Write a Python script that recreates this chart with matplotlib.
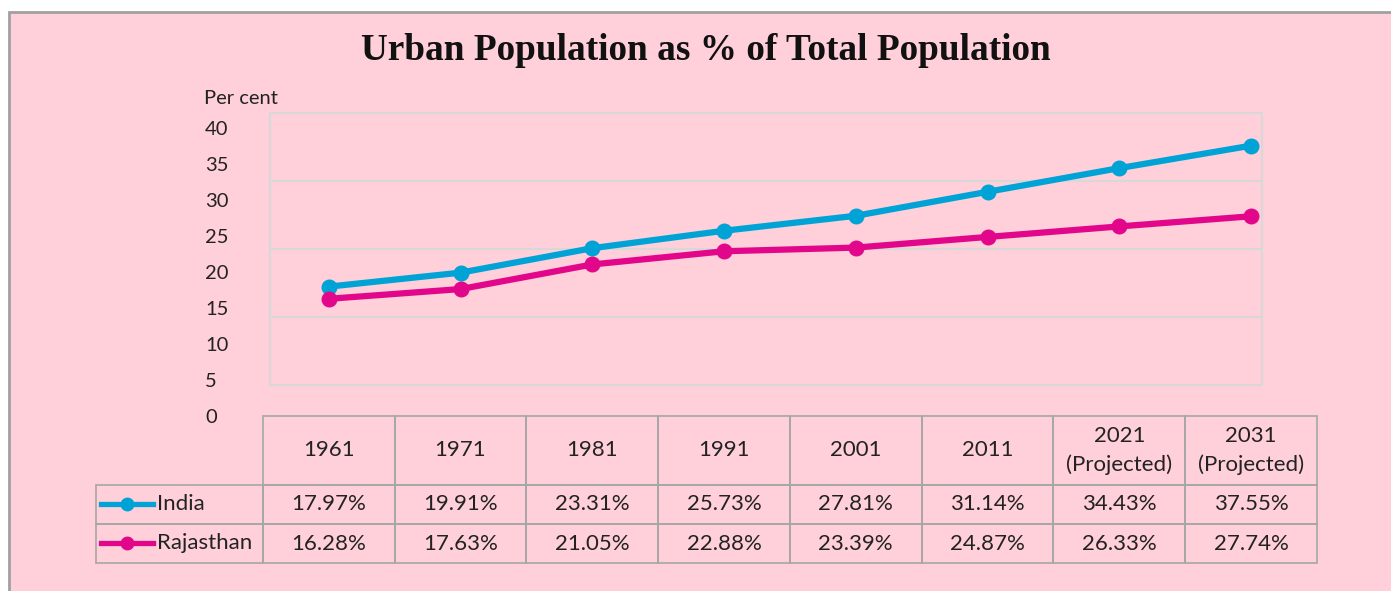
import matplotlib
matplotlib.use('Agg')
import matplotlib.pyplot as plt
from matplotlib.patches import Rectangle
from matplotlib.lines import Line2D

# Data
years = ['1961', '1971', '1981', '1991', '2001', '2011',
         '2021\n(Projected)', '2031\n(Projected)']
india = [17.97, 19.91, 23.31, 25.73, 27.81, 31.14, 34.43, 37.55]
rajasthan = [16.28, 17.63, 21.05, 22.88, 23.39, 24.87, 26.33, 27.74]
series_names = ['India', 'Rajasthan']
y_ticks = [0, 5, 10, 15, 20, 25, 30, 35, 40]

PINK = '#FFD0DA'
BLUE = '#00A3D6'
MAGENTA = '#E2078A'
GRID = '#D8D8D8'
TABLE_LINE = '#A6A6A6'
TEXT = '#222222'

W, H = 1391, 591


def fx(px):
    return px / W


def fy(py):
    return 1 - py / H


fig = plt.figure(figsize=(W / 100, H / 100), dpi=100, facecolor='white')

# pink chart panel with grey border
fig.patches.append(Rectangle((fx(9), fy(600)), fx(1400), (600 - 12) / H,
                             transform=fig.transFigure, facecolor=PINK,
                             edgecolor='#A0A0A0', linewidth=2, zorder=-5))

fig.text(fx(706), fy(51), 'Urban Population as % of Total Population',
         ha='center', va='center', fontsize=26.8, fontweight='bold',
         family='Liberation Serif', color='#111111')

# plot-area frame with its gridlines (drawn as in the original Excel chart)
frame = fig.add_axes([fx(270), fy(385), fx(992), 272 / H])
frame.set_xlim(0, 1)
frame.set_ylim(0, 4)
frame.set_xticks([])
frame.set_yticks([1, 2, 3])
frame.tick_params(left=False, labelleft=False)
frame.grid(axis='y', color=GRID, linewidth=1.5)
frame.patch.set_alpha(0)
for s in frame.spines.values():
    s.set_color(GRID)
    s.set_linewidth(1.5)

# data axes
ax = fig.add_axes([fx(263), fy(416), fx(1054), 288 / H])
ax.patch.set_alpha(0)
x = list(range(len(years)))
ax.plot(x, india, color=BLUE, lw=4.5, marker='o', ms=10.5, zorder=3)
ax.plot(x, rajasthan, color=MAGENTA, lw=4.5, marker='o', ms=10.5, zorder=3)
ax.set_xlim(-0.5, len(years) - 0.5)
ax.set_ylim(0, 40)
ax.set_yticks(y_ticks)
ax.set_xticks([])
ax.tick_params(axis='y', length=0, pad=41.8, labelsize=14.5, labelcolor=TEXT)
for lab in ax.get_yticklabels():
    lab.set_ha('left')
    lab.set_family('Lato')
for s in ax.spines.values():
    s.set_visible(False)
fig.text(fx(204), fy(99), 'Per cent', ha='left', va='center',
         fontsize=14.5, family='Lato', color=TEXT)

# data table under the chart (first column holds the series keys)
cell_text = [[''] + [f'{v:.2f}%' for v in india],
             [''] + [f'{v:.2f}%' for v in rajasthan]]
tbl = ax.table(cellText=cell_text, colLabels=[''] + years,
               bbox=[(96 - 263) / 1054, -147 / 288, (1317 - 96) / 1054, 147 / 288],
               cellLoc='center')
tbl.auto_set_font_size(False)
for (r, c), cell in tbl.get_celld().items():
    cell.set_facecolor('none')
    cell.set_edgecolor(TABLE_LINE)
    cell.set_linewidth(1.2)
    t = cell.get_text()
    t.set_fontsize(16)
    t.set_family('Lato')
    t.set_color(TEXT)
    t.set_linespacing(1.45)
    cell.set_height(69 if r == 0 else 39)
    cell.set_width(167 if c == 0 else 132)
tbl[(0, 0)].set_visible(False)

# legend keys inside the first-column cells
for name, col, py in [(series_names[0], BLUE, 504), (series_names[1], MAGENTA, 543)]:
    fig.add_artist(Line2D([fx(101), fx(153)], [fy(py), fy(py)], color=col,
                          lw=3.8, transform=fig.transFigure))
    fig.add_artist(Line2D([fx(127)], [fy(py)], color=col, marker='o', ms=9,
                          transform=fig.transFigure))
    fig.text(fx(157), fy(py), name, ha='left', va='center', fontsize=16,
             family='Lato', color=TEXT)

fig.savefig('out.png', dpi=100, facecolor='white')
